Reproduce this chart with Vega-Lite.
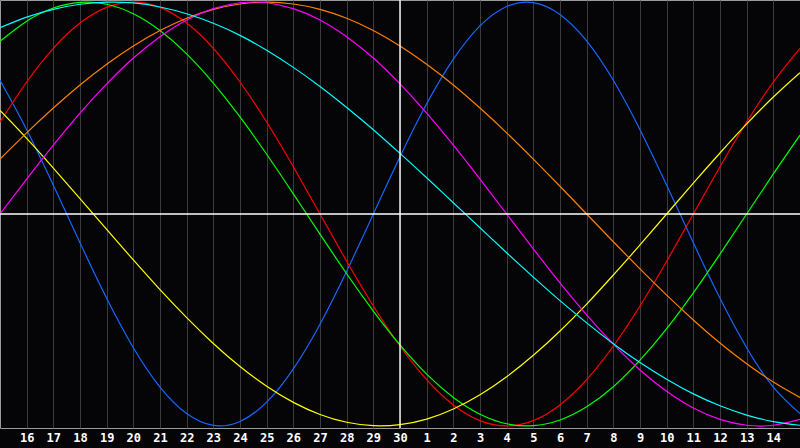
{
  "$schema": "https://vega.github.io/schema/vega-lite/v6.json",
  "width": 800,
  "height": 428,
  "autosize": {"type": "none"},
  "padding": {"top": 0, "left": 0, "right": 0, "bottom": 20},
  "background": "#050407",
  "config": {
    "view": {"stroke": "#9a9a9a", "strokeWidth": 1, "fill": "#050407"},
    "axisY": {"disable": true},
    "axisX": {
      "title": null,
      "labelFont": "DejaVu Sans Mono", "labelFontWeight": "bold", "labelFontSize": 12,
      "labelColor": "#ffffff", "labelPadding": 4, "labelOverlap": false, "labelFlush": false, "labelBound": false,
      "ticks": false, "domain": false, "grid": true, "gridColor": "#3c3c3c", "gridWidth": 1, "gridOpacity": 1
    }
  },
  "datasets": {
    "curves": [
      {"s":"Physical","i":-1,"v":0.631},{"s":"Physical","i":0,"v":0.398},{"s":"Physical","i":1,"v":0.136},{"s":"Physical","i":2,"v":-0.136},{"s":"Physical","i":3,"v":-0.398},{"s":"Physical","i":4,"v":-0.631},{"s":"Physical","i":5,"v":-0.817},{"s":"Physical","i":6,"v":-0.942},{"s":"Physical","i":7,"v":-0.998},{"s":"Physical","i":8,"v":-0.979},{"s":"Physical","i":9,"v":-0.888},{"s":"Physical","i":10,"v":-0.731},{"s":"Physical","i":11,"v":-0.52},{"s":"Physical","i":12,"v":-0.27},{"s":"Physical","i":13,"v":0},{"s":"Physical","i":14,"v":0.27},{"s":"Physical","i":15,"v":0.52},{"s":"Physical","i":16,"v":0.731},{"s":"Physical","i":17,"v":0.888},{"s":"Physical","i":18,"v":0.979},{"s":"Physical","i":19,"v":0.998},{"s":"Physical","i":20,"v":0.942},{"s":"Physical","i":21,"v":0.817},{"s":"Physical","i":22,"v":0.631},{"s":"Physical","i":23,"v":0.398},{"s":"Physical","i":24,"v":0.136},{"s":"Physical","i":25,"v":-0.136},{"s":"Physical","i":26,"v":-0.398},{"s":"Physical","i":27,"v":-0.631},{"s":"Physical","i":28,"v":-0.817},{"s":"Physical","i":29,"v":-0.942},
      {"s":"Emotional","i":-1,"v":0.434},{"s":"Emotional","i":0,"v":0.623},{"s":"Emotional","i":1,"v":0.782},{"s":"Emotional","i":2,"v":0.901},{"s":"Emotional","i":3,"v":0.975},{"s":"Emotional","i":4,"v":1},{"s":"Emotional","i":5,"v":0.975},{"s":"Emotional","i":6,"v":0.901},{"s":"Emotional","i":7,"v":0.782},{"s":"Emotional","i":8,"v":0.623},{"s":"Emotional","i":9,"v":0.434},{"s":"Emotional","i":10,"v":0.223},{"s":"Emotional","i":11,"v":0},{"s":"Emotional","i":12,"v":-0.223},{"s":"Emotional","i":13,"v":-0.434},{"s":"Emotional","i":14,"v":-0.623},{"s":"Emotional","i":15,"v":-0.782},{"s":"Emotional","i":16,"v":-0.901},{"s":"Emotional","i":17,"v":-0.975},{"s":"Emotional","i":18,"v":-1},{"s":"Emotional","i":19,"v":-0.975},{"s":"Emotional","i":20,"v":-0.901},{"s":"Emotional","i":21,"v":-0.782},{"s":"Emotional","i":22,"v":-0.623},{"s":"Emotional","i":23,"v":-0.434},{"s":"Emotional","i":24,"v":-0.223},{"s":"Emotional","i":25,"v":0},{"s":"Emotional","i":26,"v":0.223},{"s":"Emotional","i":27,"v":0.434},{"s":"Emotional","i":28,"v":0.623},{"s":"Emotional","i":29,"v":0.782},
      {"s":"Intellectual","i":-1,"v":0.815},{"s":"Intellectual","i":0,"v":0.91},{"s":"Intellectual","i":1,"v":0.972},{"s":"Intellectual","i":2,"v":0.999},{"s":"Intellectual","i":3,"v":0.99},{"s":"Intellectual","i":4,"v":0.945},{"s":"Intellectual","i":5,"v":0.866},{"s":"Intellectual","i":6,"v":0.756},{"s":"Intellectual","i":7,"v":0.618},{"s":"Intellectual","i":8,"v":0.458},{"s":"Intellectual","i":9,"v":0.282},{"s":"Intellectual","i":10,"v":0.095},{"s":"Intellectual","i":11,"v":-0.095},{"s":"Intellectual","i":12,"v":-0.282},{"s":"Intellectual","i":13,"v":-0.458},{"s":"Intellectual","i":14,"v":-0.618},{"s":"Intellectual","i":15,"v":-0.756},{"s":"Intellectual","i":16,"v":-0.866},{"s":"Intellectual","i":17,"v":-0.945},{"s":"Intellectual","i":18,"v":-0.99},{"s":"Intellectual","i":19,"v":-0.999},{"s":"Intellectual","i":20,"v":-0.972},{"s":"Intellectual","i":21,"v":-0.91},{"s":"Intellectual","i":22,"v":-0.815},{"s":"Intellectual","i":23,"v":-0.69},{"s":"Intellectual","i":24,"v":-0.541},{"s":"Intellectual","i":25,"v":-0.372},{"s":"Intellectual","i":26,"v":-0.189},{"s":"Intellectual","i":27,"v":0},{"s":"Intellectual","i":28,"v":0.189},{"s":"Intellectual","i":29,"v":0.372},
      {"s":"Aesthetic","i":-1,"v":0.489},{"s":"Aesthetic","i":0,"v":0.357},{"s":"Aesthetic","i":1,"v":0.217},{"s":"Aesthetic","i":2,"v":0.073},{"s":"Aesthetic","i":3,"v":-0.073},{"s":"Aesthetic","i":4,"v":-0.217},{"s":"Aesthetic","i":5,"v":-0.357},{"s":"Aesthetic","i":6,"v":-0.489},{"s":"Aesthetic","i":7,"v":-0.611},{"s":"Aesthetic","i":8,"v":-0.72},{"s":"Aesthetic","i":9,"v":-0.813},{"s":"Aesthetic","i":10,"v":-0.889},{"s":"Aesthetic","i":11,"v":-0.946},{"s":"Aesthetic","i":12,"v":-0.983},{"s":"Aesthetic","i":13,"v":-0.999},{"s":"Aesthetic","i":14,"v":-0.994},{"s":"Aesthetic","i":15,"v":-0.968},{"s":"Aesthetic","i":16,"v":-0.92},{"s":"Aesthetic","i":17,"v":-0.853},{"s":"Aesthetic","i":18,"v":-0.768},{"s":"Aesthetic","i":19,"v":-0.667},{"s":"Aesthetic","i":20,"v":-0.552},{"s":"Aesthetic","i":21,"v":-0.425},{"s":"Aesthetic","i":22,"v":-0.288},{"s":"Aesthetic","i":23,"v":-0.146},{"s":"Aesthetic","i":24,"v":0},{"s":"Aesthetic","i":25,"v":0.146},{"s":"Aesthetic","i":26,"v":0.288},{"s":"Aesthetic","i":27,"v":0.425},{"s":"Aesthetic","i":28,"v":0.552},{"s":"Aesthetic","i":29,"v":0.667},
      {"s":"Awareness","i":-1,"v":0.259},{"s":"Awareness","i":0,"v":0.383},{"s":"Awareness","i":1,"v":0.5},{"s":"Awareness","i":2,"v":0.609},{"s":"Awareness","i":3,"v":0.707},{"s":"Awareness","i":4,"v":0.793},{"s":"Awareness","i":5,"v":0.866},{"s":"Awareness","i":6,"v":0.924},{"s":"Awareness","i":7,"v":0.966},{"s":"Awareness","i":8,"v":0.991},{"s":"Awareness","i":9,"v":1},{"s":"Awareness","i":10,"v":0.991},{"s":"Awareness","i":11,"v":0.966},{"s":"Awareness","i":12,"v":0.924},{"s":"Awareness","i":13,"v":0.866},{"s":"Awareness","i":14,"v":0.793},{"s":"Awareness","i":15,"v":0.707},{"s":"Awareness","i":16,"v":0.609},{"s":"Awareness","i":17,"v":0.5},{"s":"Awareness","i":18,"v":0.383},{"s":"Awareness","i":19,"v":0.259},{"s":"Awareness","i":20,"v":0.131},{"s":"Awareness","i":21,"v":0},{"s":"Awareness","i":22,"v":-0.131},{"s":"Awareness","i":23,"v":-0.259},{"s":"Awareness","i":24,"v":-0.383},{"s":"Awareness","i":25,"v":-0.5},{"s":"Awareness","i":26,"v":-0.609},{"s":"Awareness","i":27,"v":-0.707},{"s":"Awareness","i":28,"v":-0.793},{"s":"Awareness","i":29,"v":-0.866},
      {"s":"Intuitive","i":-1,"v":0},{"s":"Intuitive","i":0,"v":0.165},{"s":"Intuitive","i":1,"v":0.325},{"s":"Intuitive","i":2,"v":0.476},{"s":"Intuitive","i":3,"v":0.614},{"s":"Intuitive","i":4,"v":0.736},{"s":"Intuitive","i":5,"v":0.837},{"s":"Intuitive","i":6,"v":0.916},{"s":"Intuitive","i":7,"v":0.969},{"s":"Intuitive","i":8,"v":0.997},{"s":"Intuitive","i":9,"v":0.997},{"s":"Intuitive","i":10,"v":0.969},{"s":"Intuitive","i":11,"v":0.916},{"s":"Intuitive","i":12,"v":0.837},{"s":"Intuitive","i":13,"v":0.736},{"s":"Intuitive","i":14,"v":0.614},{"s":"Intuitive","i":15,"v":0.476},{"s":"Intuitive","i":16,"v":0.325},{"s":"Intuitive","i":17,"v":0.165},{"s":"Intuitive","i":18,"v":0},{"s":"Intuitive","i":19,"v":-0.165},{"s":"Intuitive","i":20,"v":-0.325},{"s":"Intuitive","i":21,"v":-0.476},{"s":"Intuitive","i":22,"v":-0.614},{"s":"Intuitive","i":23,"v":-0.736},{"s":"Intuitive","i":24,"v":-0.837},{"s":"Intuitive","i":25,"v":-0.916},{"s":"Intuitive","i":26,"v":-0.969},{"s":"Intuitive","i":27,"v":-0.997},{"s":"Intuitive","i":28,"v":-0.997},{"s":"Intuitive","i":29,"v":-0.969},
      {"s":"Spiritual","i":-1,"v":0.879},{"s":"Spiritual","i":0,"v":0.929},{"s":"Spiritual","i":1,"v":0.966},{"s":"Spiritual","i":2,"v":0.99},{"s":"Spiritual","i":3,"v":1},{"s":"Spiritual","i":4,"v":0.996},{"s":"Spiritual","i":5,"v":0.977},{"s":"Spiritual","i":6,"v":0.945},{"s":"Spiritual","i":7,"v":0.9},{"s":"Spiritual","i":8,"v":0.843},{"s":"Spiritual","i":9,"v":0.773},{"s":"Spiritual","i":10,"v":0.692},{"s":"Spiritual","i":11,"v":0.602},{"s":"Spiritual","i":12,"v":0.503},{"s":"Spiritual","i":13,"v":0.398},{"s":"Spiritual","i":14,"v":0.286},{"s":"Spiritual","i":15,"v":0.171},{"s":"Spiritual","i":16,"v":0.053},{"s":"Spiritual","i":17,"v":-0.065},{"s":"Spiritual","i":18,"v":-0.183},{"s":"Spiritual","i":19,"v":-0.298},{"s":"Spiritual","i":20,"v":-0.409},{"s":"Spiritual","i":21,"v":-0.514},{"s":"Spiritual","i":22,"v":-0.612},{"s":"Spiritual","i":23,"v":-0.701},{"s":"Spiritual","i":24,"v":-0.78},{"s":"Spiritual","i":25,"v":-0.849},{"s":"Spiritual","i":26,"v":-0.905},{"s":"Spiritual","i":27,"v":-0.949},{"s":"Spiritual","i":28,"v":-0.98},{"s":"Spiritual","i":29,"v":-0.997}
    ],
    "today": [{"i": 14}],
    "zero": [{"v": 0}]
  },
  "layer": [
    {
      "data": {"name": "curves"},
      "mark": {"type": "line", "interpolate": "natural", "strokeWidth": 1.2, "clip": true},
      "encoding": {
        "x": {
          "field": "i", "type": "quantitative",
          "scale": {"domain": [-1, 29], "nice": false, "zero": false},
          "axis": {
            "values": [0,1,2,3,4,5,6,7,8,9,10,11,12,13,14,15,16,17,18,19,20,21,22,23,24,25,26,27,28],
            "labelExpr": "datum.value <= 14 ? datum.value + 16 : datum.value - 14",
            "labelOverlap": false
          }
        },
        "y": {
          "field": "v", "type": "quantitative",
          "scale": {"domain": [-1.01, 1.01], "nice": false, "zero": false}
        },
        "color": {
          "field": "s", "type": "nominal",
          "scale": {
            "domain": ["Physical", "Emotional", "Intellectual", "Aesthetic", "Awareness", "Intuitive", "Spiritual"],
            "range": ["#1468ff", "#ff0000", "#00ff00", "#ffff00", "#ff8000", "#ff00ff", "#00ffff"]
          },
          "legend": null
        }
      }
    },
    {
      "data": {"name": "today"},
      "mark": {"type": "rule", "color": "#ffffff", "strokeWidth": 1.4},
      "encoding": {
        "x": {
          "field": "i", "type": "quantitative",
          "axis": {
            "values": [0,1,2,3,4,5,6,7,8,9,10,11,12,13,14,15,16,17,18,19,20,21,22,23,24,25,26,27,28],
            "labelExpr": "datum.value <= 14 ? datum.value + 16 : datum.value - 14",
            "labelOverlap": false
          }
        }
      }
    },
    {
      "data": {"name": "zero"},
      "mark": {"type": "rule", "color": "#ffffff", "strokeWidth": 1.4},
      "encoding": {"y": {"field": "v", "type": "quantitative"}}
    }
  ]
}
